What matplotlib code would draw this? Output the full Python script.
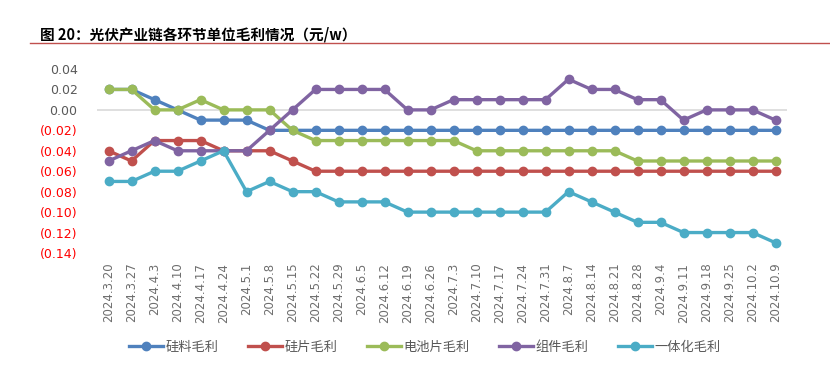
import matplotlib
matplotlib.use("Agg")
import matplotlib.pyplot as plt
from matplotlib.ticker import FixedLocator
from matplotlib.lines import Line2D

plt.rcParams['font.family'] = ['Noto Sans CJK SC', 'DejaVu Sans']

dates = ["2024.3.20", "2024.3.27", "2024.4.3", "2024.4.10", "2024.4.17", "2024.4.24",
         "2024.5.1", "2024.5.8", "2024.5.15", "2024.5.22", "2024.5.29", "2024.6.5",
         "2024.6.12", "2024.6.19", "2024.6.26", "2024.7.3", "2024.7.10", "2024.7.17",
         "2024.7.24", "2024.7.31", "2024.8.7", "2024.8.14", "2024.8.21", "2024.8.28",
         "2024.9.4", "2024.9.11", "2024.9.18", "2024.9.25", "2024.10.2", "2024.10.9"]

silicon = [0.02, 0.02, 0.01, 0.00, -0.01, -0.01, -0.01, -0.02, -0.02, -0.02,
           -0.02, -0.02, -0.02, -0.02, -0.02, -0.02, -0.02, -0.02, -0.02, -0.02,
           -0.02, -0.02, -0.02, -0.02, -0.02, -0.02, -0.02, -0.02, -0.02, -0.02]
wafer = [-0.04, -0.05, -0.03, -0.03, -0.03, -0.04, -0.04, -0.04, -0.05, -0.06,
         -0.06, -0.06, -0.06, -0.06, -0.06, -0.06, -0.06, -0.06, -0.06, -0.06,
         -0.06, -0.06, -0.06, -0.06, -0.06, -0.06, -0.06, -0.06, -0.06, -0.06]
cell = [0.02, 0.02, 0.00, 0.00, 0.01, 0.00, 0.00, 0.00, -0.02, -0.03,
        -0.03, -0.03, -0.03, -0.03, -0.03, -0.03, -0.04, -0.04, -0.04, -0.04,
        -0.04, -0.04, -0.04, -0.05, -0.05, -0.05, -0.05, -0.05, -0.05, -0.05]
module = [-0.05, -0.04, -0.03, -0.04, -0.04, -0.04, -0.04, -0.02, 0.00, 0.02,
          0.02, 0.02, 0.02, 0.00, 0.00, 0.01, 0.01, 0.01, 0.01, 0.01,
          0.03, 0.02, 0.02, 0.01, 0.01, -0.01, 0.00, 0.00, 0.00, -0.01]
integrated = [-0.07, -0.07, -0.06, -0.06, -0.05, -0.04, -0.08, -0.07, -0.08, -0.08,
              -0.09, -0.09, -0.09, -0.10, -0.10, -0.10, -0.10, -0.10, -0.10, -0.10,
              -0.08, -0.09, -0.10, -0.11, -0.11, -0.12, -0.12, -0.12, -0.12, -0.13]

series_names = ["硅料毛利", "硅片毛利", "电池片毛利", "组件毛利", "一体化毛利"]
colors = ["#4F81BD", "#C0504D", "#9BBB59", "#8064A2", "#4BACC6"]
yticks = [0.04, 0.02, 0.00, -0.02, -0.04, -0.06, -0.08, -0.10, -0.12, -0.14]

fig = plt.figure(figsize=(8.3, 3.75), dpi=100)
ax = fig.add_axes([97/830, 122/375, 690/830, 184/375])

x = list(range(len(dates)))
all_series = [silicon, wafer, cell, module, integrated]
for vals, c, name in zip(all_series, colors, series_names):
    ax.plot(x, vals, color=c, lw=2.4, marker='o', ms=6, label=name,
            solid_capstyle='round', clip_on=False, zorder=3)

ax.axhline(0, color='#D9D9D9', lw=1.2, zorder=1)
ax.set_xlim(-0.5, len(dates) - 0.5)
ax.set_ylim(-0.14, 0.04)
for s in ax.spines.values():
    s.set_visible(False)

ax.set_xticks(x)
ax.set_xticklabels(dates, rotation=90, fontsize=8.5, color='#6E6E6E',
                   family=['DejaVu Sans'])
ax.tick_params(axis='x', length=0, pad=7)
ax.yaxis.set_major_locator(FixedLocator(yticks))

def fmt(v):
    if v < -1e-9:
        return "({:.2f})".format(-v)
    return "{:.2f}".format(abs(v))

ax.set_yticklabels([fmt(v) for v in yticks], fontsize=9, family=['DejaVu Sans'])
for lbl, v in zip(ax.get_yticklabels(), yticks):
    lbl.set_color('#FF0000' if v < -1e-9 else '#595959')
ax.tick_params(axis='y', length=0, pad=14)

handles = [Line2D([0], [0], color=c, lw=2.4, marker='o', ms=6) for c in colors]
fig.legend(handles, series_names, loc='center', bbox_to_anchor=(425/830, 1 - 347/375),
           ncol=5, frameon=False, fontsize=9.5, handlelength=2.6, columnspacing=2.2,
           handletextpad=0.2, labelcolor='#595959')

fig.text(40/830, 1 - 34/375, "图 20：光伏产业链各环节单位毛利情况（元/w）", fontsize=10.5,
         fontweight='bold', va='center', ha='left', color='#000000')
fig.add_artist(Line2D([30/830, 1.0], [1 - 43/375, 1 - 43/375], color='#C0504D', lw=1.0))

fig.savefig("out.png", dpi=100)
